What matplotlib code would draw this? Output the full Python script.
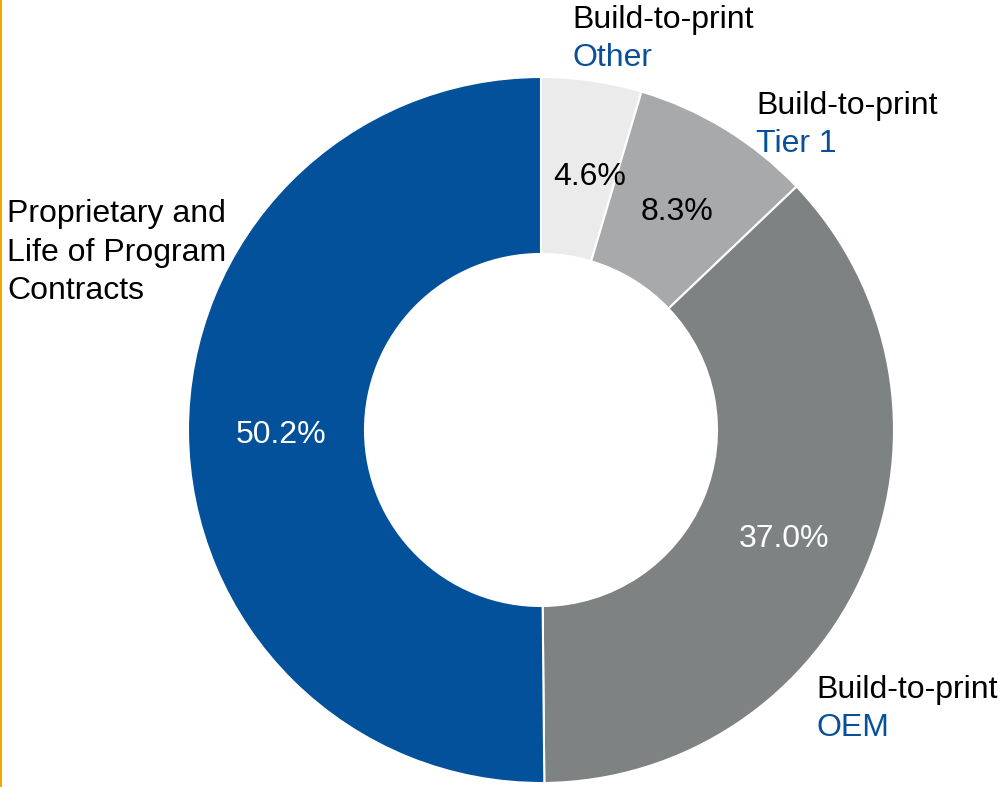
import matplotlib.pyplot as plt

plt.rcParams['font.family'] = ['Liberation Sans', 'DejaVu Sans']

# Revenue mix by contract type (clockwise from 12 o'clock)
segments = ['Other', 'Tier 1', 'OEM', 'Proprietary']
shares = [4.6, 8.3, 37.0, 50.2]
colors = ['#ebebeb', '#a8a9ab', '#7f8283', '#03519a']
pct_colors = ['black', 'black', 'white', 'white']

blue = '#0a4f9a'

fig = plt.figure(figsize=(9.99, 7.87), dpi=100)
ax = fig.add_axes([0, 0, 1, 1])

wedges, texts, autotexts = ax.pie(
    shares, colors=colors, startangle=90, counterclock=False,
    center=(541, 357), radius=353, frame=True,
    autopct='%.1f%%', pctdistance=0.737,
    wedgeprops=dict(width=177, edgecolor='white', linewidth=1.5),
    textprops=dict(fontsize=23))
# print the stated shares rather than the renormalised ones
for t, v, c in zip(autotexts, shares, pct_colors):
    t.set_text('%.1f%%' % v)
    t.set_color(c)
    x0, y0 = t.get_position()
    t.set_position((x0, y0 - 4))
# nudge the small slice label off the divider
x0, y0 = autotexts[0].get_position()
autotexts[0].set_position((x0 + 11, y0))
x0, y0 = autotexts[2].get_position()
autotexts[2].set_position((x0 + 3, y0 - 4))

ax.set_xlim(0, 999)
ax.set_ylim(0, 787)
ax.set_aspect('equal')
ax.axis('off')

# Segment labels: black heading with coloured sub-label below
def seg_label(x, y, sub):
    ax.text(x, y, 'Build-to-print', fontsize=23, color='black', va='top', ha='left')
    ax.text(x, y - 38, sub, fontsize=23, color=blue, va='top', ha='left')

seg_label(572, 782, segments[0])
seg_label(756, 696, segments[1])
seg_label(816, 112, segments[2])

ax.text(7, 588, 'Proprietary and\nLife of Program\nContracts', fontsize=23,
        color='black', va='top', ha='left', linespacing=1.38)

# thin accent rule on the left edge
fig.add_artist(plt.Line2D([0.001, 0.001], [0, 1], color='#f5a800', lw=1.5,
                          transform=fig.transFigure))

fig.savefig('out.png', dpi=100)
